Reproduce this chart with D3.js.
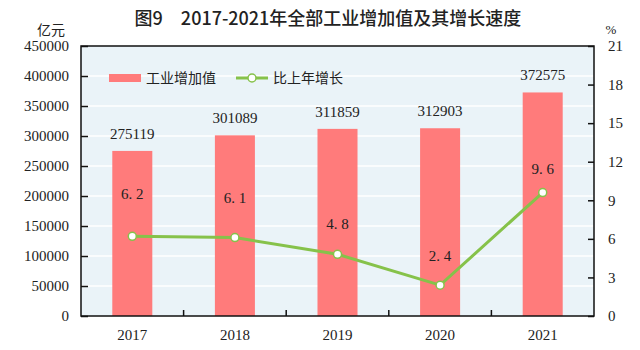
<!DOCTYPE html>
<html>
<head>
<meta charset="utf-8">
<script src="https://cdn.jsdelivr.net/npm/d3@7"></script>
<style>
  body { margin: 0; background: #ffffff; }
  svg { display: block; }
  .num { font-family: "Liberation Serif", "DejaVu Serif", serif; fill: #222; }
  .cjk { font-family: "Noto Sans CJK SC", sans-serif; fill: #222; }
</style>
</head>
<body>
<div id="chart"></div>
<script>
// Data
const years = ['2017', '2018', '2019', '2020', '2021'];
const valueAdded = [275119, 301089, 311859, 312903, 372575]; // 亿元
const growth = [6.2, 6.1, 4.8, 2.4, 9.6]; // %
const leftTicks = [0, 50000, 100000, 150000, 200000, 250000, 300000, 350000, 400000, 450000];
const rightTicks = [0, 3, 6, 9, 12, 15, 18, 21];

// Layout
const width = 640, height = 350;
const margin = { top: 46, right: 46, bottom: 34, left: 81 };
const plotW = width - margin.left - margin.right;
const plotH = height - margin.top - margin.bottom;
// vertical gap between growth point and its label (hand placed in the original)
const growthLabelGap = [42, 40, 30, 29, 24];

const svg = d3.select('#chart')
  .append('svg')
  .attr('width', width)
  .attr('height', height);

// Title
svg.append('text')
  .attr('class', 'cjk')
  .attr('x', 328)
  .attr('y', 25)
  .attr('text-anchor', 'middle')
  .attr('font-size', '18px')
  .attr('font-weight', '500')
  .attr('fill', '#1a1a1a')
  .text('图9\u30002017-2021年全部工业增加值及其增长速度');

// Unit labels
svg.append('text')
  .attr('class', 'cjk')
  .attr('x', 51)
  .attr('y', 35)
  .attr('text-anchor', 'middle')
  .attr('font-size', '14px')
  .text('亿元');

svg.append('text')
  .attr('class', 'num')
  .attr('x', 611)
  .attr('y', 34)
  .attr('text-anchor', 'middle')
  .attr('font-size', '13px')
  .text('%');

const g = svg.append('g')
  .attr('transform', `translate(${margin.left},${margin.top})`);

// Scales
const x = d3.scaleBand()
  .domain(years)
  .range([0, plotW])
  .padding(0);

const barW = x.bandwidth() * 0.39;

const yL = d3.scaleLinear()
  .domain([0, 450000])
  .range([plotH, 0]);

const yR = d3.scaleLinear()
  .domain([0, 21])
  .range([plotH, 0]);

// Plot background
g.append('rect')
  .attr('width', plotW)
  .attr('height', plotH)
  .attr('fill', '#eaf3f8');

// Horizontal gridlines
g.append('g')
  .selectAll('line')
  .data(leftTicks.slice(1, -1))
  .enter()
  .append('line')
  .attr('x1', 0)
  .attr('x2', plotW)
  .attr('y1', d => yL(d))
  .attr('y2', d => yL(d))
  .attr('stroke', '#ffffff')
  .attr('stroke-width', 1.5);

// Bars
g.selectAll('.bar')
  .data(years)
  .enter()
  .append('rect')
  .attr('class', 'bar')
  .attr('x', (d) => x(d) + (x.bandwidth() - barW) / 2)
  .attr('y', (d, i) => yL(valueAdded[i]))
  .attr('width', barW)
  .attr('height', (d, i) => plotH - yL(valueAdded[i]))
  .attr('fill', '#ff7b7b');

// Bar value labels
g.selectAll('.bar-label')
  .data(years)
  .enter()
  .append('text')
  .attr('class', 'num')
  .attr('x', d => x(d) + x.bandwidth() / 2)
  .attr('y', (d, i) => yL(valueAdded[i]) - 12)
  .attr('text-anchor', 'middle')
  .attr('font-size', '15px')
  .text((d, i) => valueAdded[i]);

// Growth line
const line = d3.line()
  .x((d, i) => x(years[i]) + x.bandwidth() / 2)
  .y(d => yR(d));

g.append('path')
  .datum(growth)
  .attr('d', line)
  .attr('fill', 'none')
  .attr('stroke', '#86c24a')
  .attr('stroke-width', 3);

g.selectAll('.dot')
  .data(growth)
  .enter()
  .append('circle')
  .attr('cx', (d, i) => x(years[i]) + x.bandwidth() / 2)
  .attr('cy', d => yR(d))
  .attr('r', 4)
  .attr('fill', '#ffffff')
  .attr('stroke', '#86c24a')
  .attr('stroke-width', 1.5);

// Growth labels
g.selectAll('.growth-label')
  .data(growth)
  .enter()
  .append('text')
  .attr('class', 'num')
  .attr('x', (d, i) => x(years[i]) + x.bandwidth() / 2)
  .attr('y', (d, i) => yR(d) - growthLabelGap[i] + 5)
  .attr('text-anchor', 'middle')
  .attr('font-size', '15px')
  .attr('fill', '#3a1a1a')
  .text(d => d.toFixed(1).replace('.', '. '));

// Frame
g.append('rect')
  .attr('width', plotW)
  .attr('height', plotH)
  .attr('fill', 'none')
  .attr('stroke', '#111')
  .attr('stroke-width', 1.5);

// Left axis
const leftAxis = g.append('g')
  .call(d3.axisLeft(yL).tickValues(leftTicks).tickSize(-7).tickPadding(12).tickFormat(d3.format('d')));
leftAxis.select('.domain').remove();
leftAxis.selectAll('line').attr('stroke', '#111').attr('stroke-width', 1.5);
leftAxis.selectAll('text')
  .attr('class', 'num')
  .attr('font-size', '15px')
  .attr('fill', '#222');

// Right axis
const rightAxis = g.append('g')
  .attr('transform', `translate(${plotW},0)`)
  .call(d3.axisRight(yR).tickValues(rightTicks).tickSize(-6).tickPadding(14));
rightAxis.select('.domain').remove();
rightAxis.selectAll('line').attr('stroke', '#111').attr('stroke-width', 1.5);
rightAxis.selectAll('text')
  .attr('class', 'num')
  .attr('font-size', '15px')
  .attr('fill', '#222');

// Bottom axis: ticks between categories
const bottomAxis = g.append('g')
  .attr('transform', `translate(0,${plotH})`)
  .call(d3.axisBottom(x).tickSize(0).tickPadding(13));
bottomAxis.select('.domain').remove();
bottomAxis.selectAll('text')
  .attr('class', 'num')
  .attr('font-size', '15px')
  .attr('fill', '#222');

g.append('g')
  .selectAll('line')
  .data(years.slice(1))
  .enter()
  .append('line')
  .attr('x1', d => x(d))
  .attr('x2', d => x(d))
  .attr('y1', plotH)
  .attr('y2', plotH - 6)
  .attr('stroke', '#111')
  .attr('stroke-width', 1.5);

// Legend
const legend = g.append('g')
  .attr('transform', 'translate(28,32)');

legend.append('rect')
  .attr('x', 0)
  .attr('y', -4)
  .attr('width', 32)
  .attr('height', 8)
  .attr('fill', '#ff7b7b');

legend.append('text')
  .attr('class', 'cjk')
  .attr('x', 37)
  .attr('y', 5)
  .attr('font-size', '14px')
  .attr('fill', '#333')
  .text('工业增加值');

legend.append('line')
  .attr('x1', 127)
  .attr('x2', 159)
  .attr('y1', 0)
  .attr('y2', 0)
  .attr('stroke', '#86c24a')
  .attr('stroke-width', 3);

legend.append('circle')
  .attr('cx', 143)
  .attr('cy', 0)
  .attr('r', 4)
  .attr('fill', '#ffffff')
  .attr('stroke', '#86c24a')
  .attr('stroke-width', 1.5);

legend.append('text')
  .attr('class', 'cjk')
  .attr('x', 164)
  .attr('y', 5)
  .attr('font-size', '14px')
  .attr('fill', '#333')
  .text('比上年增长');
</script>
</body>
</html>
